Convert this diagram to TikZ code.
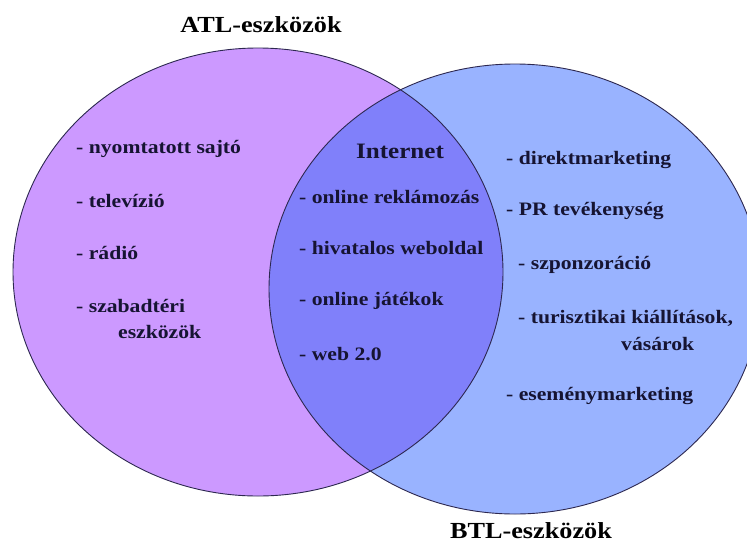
\documentclass[tikz,border=0pt]{standalone}
\usepackage{fontspec}
\setmainfont{Liberation Serif}
\definecolor{atlfill}{RGB}{204,153,255}
\definecolor{btlfill}{RGB}{153,179,255}
\definecolor{bothfill}{RGB}{128,128,250}
\definecolor{edge}{RGB}{45,40,80}
\definecolor{ink}{RGB}{22,20,50}
\newcommand{\wide}[1]{\scalebox{1.14}[1]{#1}}
\tikzset{
  item/.style={anchor=west, inner sep=0pt, text=ink, font=\fontsize{19}{21}\selectfont\bfseries},
  head/.style={anchor=center, inner sep=0pt, text=ink, font=\fontsize{22}{25}\selectfont\bfseries},
  title/.style={anchor=center, inner sep=0pt, text=black, font=\fontsize{23}{27}\selectfont\bfseries},
  outline/.style={draw=edge, line width=0.9pt}
}
\begin{document}
\begin{tikzpicture}[x=1pt, y=-1pt]
\useasboundingbox (0,0) rectangle (747,544);
\fill[white] (0,0) rectangle (747,544);
% circles
\fill[atlfill] (258,272) ellipse [x radius=245pt, y radius=224pt];
\fill[btlfill] (515,289) ellipse [x radius=246pt, y radius=225pt];
\begin{scope}
  \clip (258,272) ellipse [x radius=245pt, y radius=224pt];
  \fill[bothfill] (515,289) ellipse [x radius=246pt, y radius=225pt];
\end{scope}
\draw[outline] (258,272) ellipse [x radius=245pt, y radius=224pt];
\draw[outline] (515,289) ellipse [x radius=246pt, y radius=225pt];
% titles
\node[title] (atl) at (261,25) {\wide{ATL-eszközök}};
\node[title] (btl) at (531,531) {\wide{BTL-eszközök}};
% left
\node[item] (a1) at (76,149) {\wide{- nyomtatott sajtó}};
\node[item] (a2) at (76,201) {\wide{- televízió}};
\node[item] (a3) at (76,253) {\wide{- rádió}};
\node[item] (a4) at (76,306) {\wide{- szabadtéri}};
\node[item] (a5) at (118,332) {\wide{eszközök}};
% middle
\node[head] (inet) at (400,151) {\wide{Internet}};
\node[item] (m1) at (299,197) {\wide{- online reklámozás}};
\node[item] (m2) at (299,248) {\wide{- hivatalos weboldal}};
\node[item] (m3) at (299,301) {\wide{- online játékok}};
\node[item] (m4) at (299,354) {\wide{- web 2.0}};
% right
\node[item] (b1) at (506,160) {\wide{- direktmarketing}};
\node[item] (b2) at (506,211) {\wide{- PR tevékenység}};
\node[item] (b3) at (518,265) {\wide{- szponzoráció}};
\node[item] (b4) at (518,318) {\wide{- turisztikai kiállítások,}};
\node[item] (b5) at (621,344) {\wide{vásárok}};
\node[item] (b6) at (506,396) {\wide{- eseménymarketing}};
\end{tikzpicture}
\end{document}
